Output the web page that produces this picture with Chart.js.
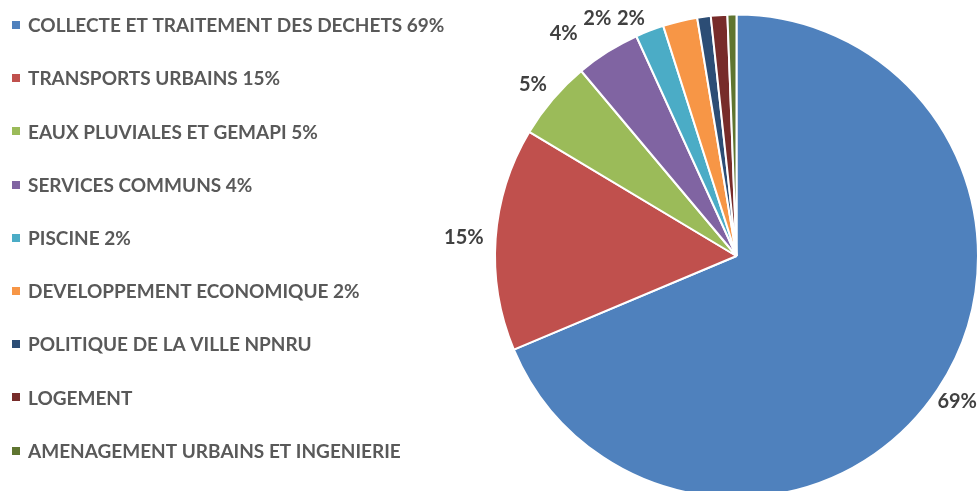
<!DOCTYPE html>
<html>
<head>
<meta charset="utf-8">
<script src="https://cdn.jsdelivr.net/npm/chart.js@4.4.1/dist/chart.umd.min.js"></script>
<style>
  html, body { margin: 0; padding: 0; background: #ffffff; overflow: hidden; }
  #wrap { position: absolute; left: 0; top: 0; width: 979px; height: 500px; }
</style>
</head>
<body>
<div id="wrap"><canvas id="c" width="979" height="500"></canvas></div>
<script>
const categories = [
  'COLLECTE ET TRAITEMENT DES DECHETS 69%',
  'TRANSPORTS URBAINS 15%',
  'EAUX PLUVIALES ET GEMAPI 5%',
  'SERVICES COMMUNS 4%',
  'PISCINE 2%',
  'DEVELOPPEMENT ECONOMIQUE 2%',
  'POLITIQUE DE LA VILLE NPNRU',
  'LOGEMENT',
  'AMENAGEMENT URBAINS ET INGENIERIE'
];
const values = [68.6, 14.9, 5.3, 4.3, 1.9, 2.3, 0.9, 1.1, 0.6];
const dataLabels = ['69%', '15%', '5%', '4%', '2%', '2%', '1%', '1%', '1%'];
const showLabel = [true, true, true, true, true, true, false, false, false];
const colors = ['#4F81BD', '#C0504D', '#9BBB59', '#8064A2', '#4BACC6', '#F79646', '#2C4D75', '#772C2A', '#5F7530'];

const FONT_FAMILY = 'Lato, "Open Sans", sans-serif';

const legendPlugin = {
  id: 'leftLegend',
  afterDraw(chart) {
    const ctx = chart.ctx;
    ctx.save();
    ctx.font = 'bold 19px ' + FONT_FAMILY;
    ctx.textBaseline = 'middle';
    ctx.textAlign = 'left';
    const startY = 25, step = 53.2;
    chart.data.labels.forEach((lab, i) => {
      const y = startY + i * step;
      ctx.fillStyle = chart.data.datasets[0].backgroundColor[i];
      ctx.fillRect(12, Math.round(y - 4), 8, 8);
      ctx.fillStyle = '#595959';
      ctx.fillText(lab, 28, y + 1);
    });
    ctx.restore();
  }
};

// Outside-end labels; hidden labels still reserve their space (as in the source chart)
const labelPlugin = {
  id: 'outsideLabels',
  afterDatasetsDraw(chart) {
    const ctx = chart.ctx;
    const meta = chart.getDatasetMeta(0);
    ctx.save();
    ctx.font = 'bold 20px ' + FONT_FAMILY;
    ctx.textBaseline = 'middle';
    ctx.textAlign = 'center';
    ctx.fillStyle = '#404040';
    const gap = 12, hh = 8, minCy = 19, boxH = 24, margin = 5;
    const maxX = chart.width - 2;
    const placed = [];
    for (let i = meta.data.length - 1; i >= 0; i--) {
      const txt = dataLabels[i];
      const p = meta.data[i].getProps(['x', 'y', 'startAngle', 'endAngle', 'outerRadius'], true);
      const w = ctx.measureText(txt).width;
      const hw = w / 2;
      const a = (p.startAngle + p.endAngle) / 2;
      const dx = Math.cos(a), dy = Math.sin(a);
      let cx = p.x + dx * (p.outerRadius + gap + hw);
      let cy = p.y + dy * (p.outerRadius + gap + hh + 2);
      if (cy < minCy) cy = minCy;
      if (cx + hw > maxX) cx = maxX - hw;
      const overlaps = () => placed.some(b =>
        Math.abs(cx - b.cx) < (hw + b.hw + margin) && Math.abs(cy - b.cy) < boxH);
      const dir = dx < 0 ? -1 : 1;
      let guard = 0;
      while (overlaps() && guard++ < 400) cx += dir;
      placed.push({ cx, cy, hw });
      if (showLabel[i]) ctx.fillText(txt, cx, cy);
    }
    ctx.restore();
  }
};

new Chart(document.getElementById('c'), {
  type: 'pie',
  data: {
    labels: categories,
    datasets: [{
      data: values,
      backgroundColor: colors,
      borderColor: '#ffffff',
      borderWidth: 2
    }]
  },
  options: {
    responsive: false,
    animation: false,
    layout: { padding: { left: 494, top: 12, right: -1, bottom: 0 } },
    plugins: {
      legend: { display: false },
      tooltip: { enabled: false }
    }
  },
  plugins: [legendPlugin, labelPlugin]
});
</script>
</body>
</html>
